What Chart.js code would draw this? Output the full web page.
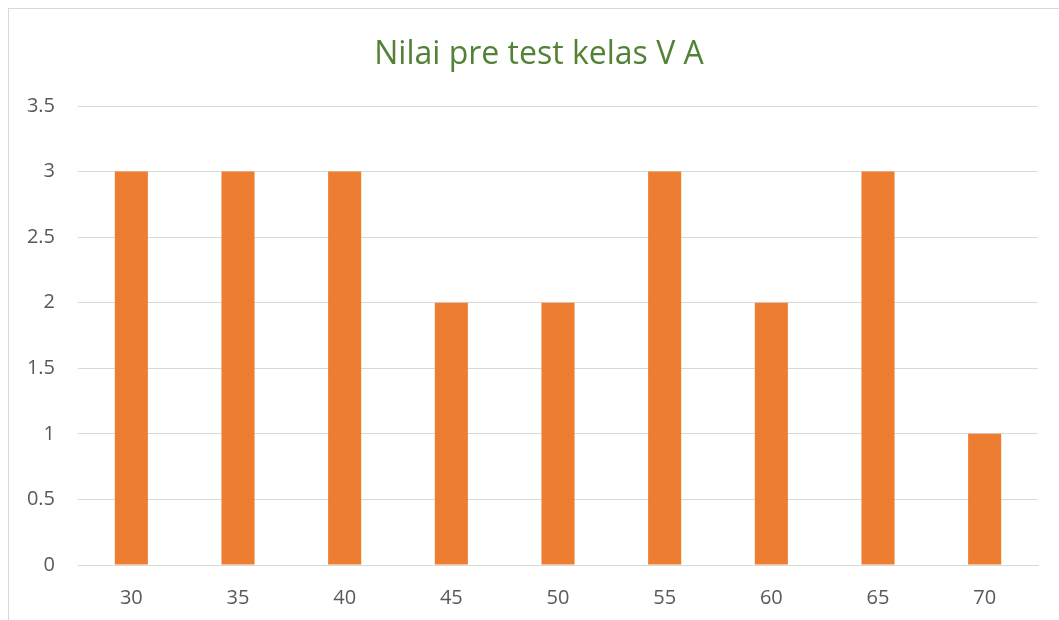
<!DOCTYPE html>
<html>
<head>
<meta charset="utf-8">
<script src="https://cdn.jsdelivr.net/npm/chart.js@4.4.0/dist/chart.umd.min.js"></script>
<style>
    body { margin: 0; background: #fff; overflow: hidden; }
    .frame { position: absolute; left: 8px; top: 8px; width: 1100px; height: 700px; border: 1px solid #d9d9d9; }
    .wrap { position: absolute; left: 0; top: 0; width: 1059px; height: 620px; }
</style>
</head>
<body>
<div class="frame"></div>
<div class="wrap"><canvas id="nilaiChart"></canvas></div>
<script>
const scoreLabels = ['30', '35', '40', '45', '50', '55', '60', '65', '70'];
const studentCounts = [3, 3, 3, 2, 2, 3, 2, 3, 1];
const yTicks = [0, 0.5, 1, 1.5, 2, 2.5, 3, 3.5];

const fontFamily = "'Open Sans', 'Noto Sans', sans-serif";

// the title is centred on the whole frame, not on the plot area
const titleShift = {
    id: 'titleShift',
    afterLayout(chart) {
        if (chart.titleBlock) {
            chart.titleBlock.left = 40;
        }
    }
};

const ctx = document.querySelector('#nilaiChart').getContext('2d');
new Chart(ctx, {
    type: 'bar',
    data: {
        labels: scoreLabels,
        datasets: [{
            label: 'Nilai',
            data: studentCounts,
            backgroundColor: '#ED7D31',
            borderWidth: 0,
            barPercentage: 0.62,
            categoryPercentage: 0.5
        }]
    },
    options: {
        responsive: true,
        maintainAspectRatio: false,
        animation: false,
        layout: { padding: { left: 0, right: 21, top: 0, bottom: 0 } },
        plugins: {
            legend: { display: false },
            tooltip: { enabled: false },
            title: {
                display: true,
                text: 'Nilai pre test kelas V A',
                color: '#548235',
                font: { family: fontFamily, size: 32, weight: 'normal' },
                padding: { top: 36, bottom: 31.6 }
            }
        },
        scales: {
            x: {
                grid: { display: false, drawTicks: false },
                border: { display: true, color: '#d9d9d9', width: 1 },
                ticks: { color: '#595959', font: { family: fontFamily, size: 20 }, padding: 21 },
                afterFit: (scale) => { scale.height = 55; }
            },
            y: {
                min: 0,
                max: 3.5,
                afterBuildTicks: (scale) => { scale.ticks = yTicks.map(v => ({ value: v })); },
                grid: { color: '#d9d9d9', lineWidth: 1, drawTicks: false },
                border: { display: false },
                ticks: {
                    color: '#595959',
                    font: { family: fontFamily, size: 20 },
                    padding: 23,
                    callback: (value) => String(value)
                },
                afterFit: (scale) => { scale.width = 78; }
            }
        }
    },
    plugins: [titleShift]
});
</script>
</body>
</html>
